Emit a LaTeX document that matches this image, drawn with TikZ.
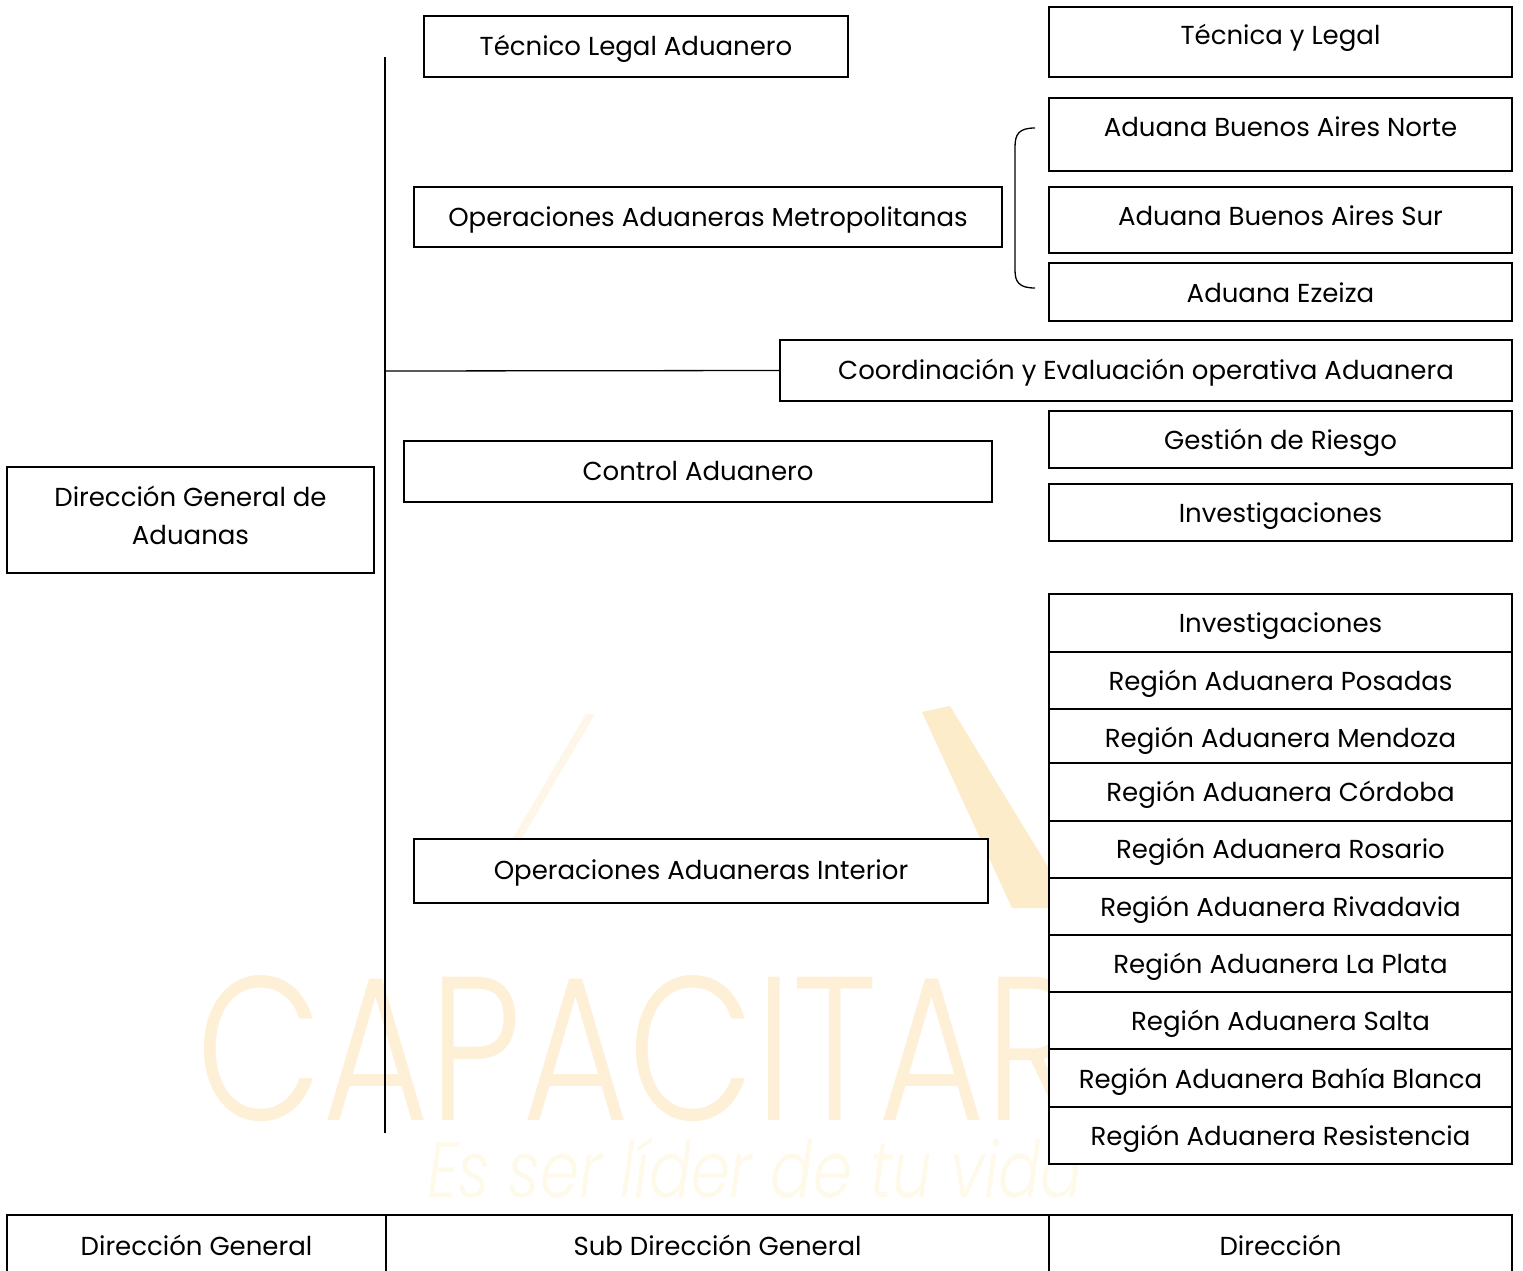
\documentclass[tikz,border=0pt]{standalone}
\usepackage{graphicx}
\usepackage{fontspec}
\setmainfont{Poppins}
\newfontfamily\wmfont{Poppins Light}
\definecolor{wm}{RGB}{254,240,214}
\definecolor{wmit}{RGB}{254,249,232}
\definecolor{wmdark}{RGB}{253,236,202}
\definecolor{wmlight}{RGB}{254,246,232}
\tikzset{
  box/.style={draw, line width=2pt, fill=white, inner sep=0pt, outer sep=0pt, anchor=north west},
  lbl/.style={inner sep=0pt, anchor=base, font=\fontsize{26}{38}\selectfont, align=center},
  conn/.style={line width=1.3pt},
  wmtext/.style={inner sep=0pt, anchor=base west, text depth=0pt}
}
\newcommand\orgbox[7]{%
  \node[box, minimum width={#4pt-#2pt}, minimum height={#5pt-#3pt}] (#1) at (#2,#3) {};
  \node[lbl] (#1-t) at ({(#2+#4)/2},{#6+9}) {#7};
}
\begin{document}
\begin{tikzpicture}[x=1pt,y=-1pt]
\useasboundingbox (0,0) rectangle (1523,1271);
\clip (0,0) rectangle (1523,1271);
\fill[white] (0,0) rectangle (1523,1271);
% watermark
\fill[wmlight] (586,714) -- (595,714) -- (522,838) -- (513,838) -- cycle;
\fill[wmdark] (922,712) -- (950,706) -- (1050,870) -- (1050,908) -- (1012,908) -- cycle;
\node[wmtext, text=wm] (wmA) at (196,1120) {\wmfont\fontsize{205}{205}\selectfont\scalebox{0.8}[1]{CAPACITAR}};
\node[wmtext, text=wmit, text height=60pt] (wmB) at (427,1197) {\wmfont\fontsize{78}{78}\selectfont\itshape\scalebox{0.8}[1]{Es ser líder de tu vida}};
% boxes
\orgbox{tla}{424}{16}{848}{77}{47}{Técnico Legal Aduanero}
\orgbox{tyl}{1049}{7}{1512}{77}{36}{Técnica y Legal}
\orgbox{ban}{1049}{98}{1512}{171}{128}{Aduana Buenos Aires Norte}
\orgbox{bas}{1049}{187}{1512}{253}{216}{Aduana Buenos Aires Sur}
\orgbox{eze}{1049}{263}{1512}{321}{293}{Aduana Ezeiza}
\orgbox{oam}{414}{187}{1002}{247}{217}{Operaciones Aduaneras Metropolitanas}
\orgbox{coo}{780}{340}{1512}{401}{370}{Coordinación y Evaluación operativa Aduanera}
\orgbox{ges}{1049}{411}{1512}{468}{440}{Gestión de Riesgo}
\orgbox{inv}{1049}{484}{1512}{541}{513}{Investigaciones}
\orgbox{ctl}{404}{441}{992}{502}{471}{Control Aduanero}
\orgbox{dga}{7}{467}{374}{573}{535}{Dirección General de\\Aduanas}
\orgbox{oai}{414}{839}{988}{903}{870}{Operaciones Aduaneras Interior}
% stack
\orgbox{s1}{1049}{594}{1512}{652}{623}{Investigaciones}
\orgbox{s2}{1049}{652}{1512}{709}{681}{Región Aduanera Posadas}
\orgbox{s3}{1049}{709}{1512}{763}{738}{Región Aduanera Mendoza}
\orgbox{s4}{1049}{763}{1512}{821}{792}{Región Aduanera Córdoba}
\orgbox{s5}{1049}{821}{1512}{878}{849}{Región Aduanera Rosario}
\orgbox{s6}{1049}{878}{1512}{935}{907}{Región Aduanera Rivadavia}
\orgbox{s7}{1049}{935}{1512}{992}{964}{Región Aduanera La Plata}
\orgbox{s8}{1049}{992}{1512}{1049}{1021}{Región Aduanera Salta}
\orgbox{s9}{1049}{1049}{1512}{1107}{1079}{Región Aduanera Bahía Blanca}
\orgbox{s10}{1049}{1107}{1512}{1164}{1136}{Región Aduanera Resistencia}
% bottom legend table
\orgbox{lg1}{7}{1215}{386}{1290}{1246}{Dirección General}
\orgbox{lg2}{386}{1215}{1049}{1290}{1246}{Sub Dirección General}
\orgbox{lg3}{1049}{1215}{1512}{1290}{1246}{Dirección}
% connectors
\coordinate (vtop) at (385,57);
\coordinate (vbot) at (385,1133);
\coordinate (vmid) at (385,371);
\draw[conn] (vtop) -- (vbot);
\draw[conn] (vmid) -- (coo.west);
\coordinate (brt) at (1035,128);
\coordinate (brb) at (1035,288);
\draw[conn] (brt) .. controls (1019,128) and (1015,134) .. (1015,147) -- (1015,270) .. controls (1015,282) and (1019,288) .. (brb);
\end{tikzpicture}
\end{document}
